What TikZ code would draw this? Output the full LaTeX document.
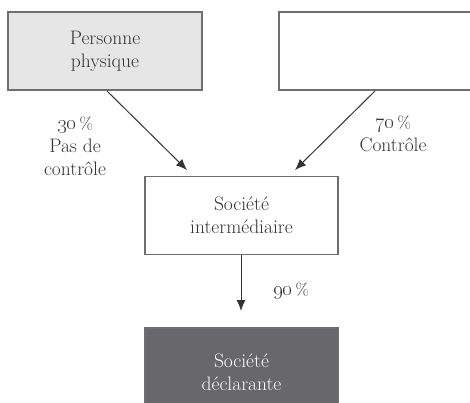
\documentclass[tikz,border=0pt]{standalone}
\usetikzlibrary{arrows.meta}
\definecolor{edge}{HTML}{6E6E6E}
\definecolor{lightfill}{HTML}{E6E6E6}
\definecolor{darkfill}{HTML}{68686C}
\definecolor{ink}{HTML}{333333}
\begin{document}
\begin{tikzpicture}[x=1pt,y=-1pt,
  boxstyle/.style={draw=edge,line width=1.3pt,rectangle,inner sep=0pt},
  txt/.style={font=\fontsize{19.5}{23}\selectfont,align=center,text=ink},
  arr/.style={-{Latex[length=11pt,width=9pt]},line width=1pt,draw=ink}]
\useasboundingbox (0,0) rectangle (470,402);
\begin{scope}
\clip (0,0) rectangle (470,402);
\node[boxstyle,fill=lightfill,minimum width=194pt,minimum height=78pt] (pp) at (105,51) {};
\node[boxstyle,fill=white,minimum width=200pt,minimum height=78pt] (rb) at (379,51) {};
\node[boxstyle,fill=white,minimum width=193pt,minimum height=78pt] (si) at (241.5,215.5) {};
\node[boxstyle,fill=darkfill,minimum width=193pt,minimum height=80pt] (sd) at (241.5,368) {};
\end{scope}
\node[txt] at (pp.center) {Personne\\physique};
\node[txt] at (si.center) {Société\\intermédiaire};
\node[txt,text=white] at ([yshift=-4pt]sd.center) {Société\\déclarante};
\coordinate (a1s) at (107,91);
\coordinate (a1e) at (187,170);
\coordinate (a2s) at (375,91);
\coordinate (a2e) at (295,170);
\coordinate (a3e) at (241,311);
\draw[arr] (a1s) -- (a1e);
\draw[arr] (a2s) -- (a2e);
\draw[arr] (si.south -| a3e) -- (a3e);
\node[txt] (l1) at (75,146) {\oldstylenums{30}\,{\fontsize{17}{17}\selectfont\%}\\Pas de\\contrôle};
\node[txt] (l2) at (393,134) {\oldstylenums{70}\,{\fontsize{17}{17}\selectfont\%}\\Contrôle};
\node[txt] (l3) at (291,291) {\oldstylenums{90}\,{\fontsize{17}{17}\selectfont\%}};
\end{tikzpicture}
\end{document}
